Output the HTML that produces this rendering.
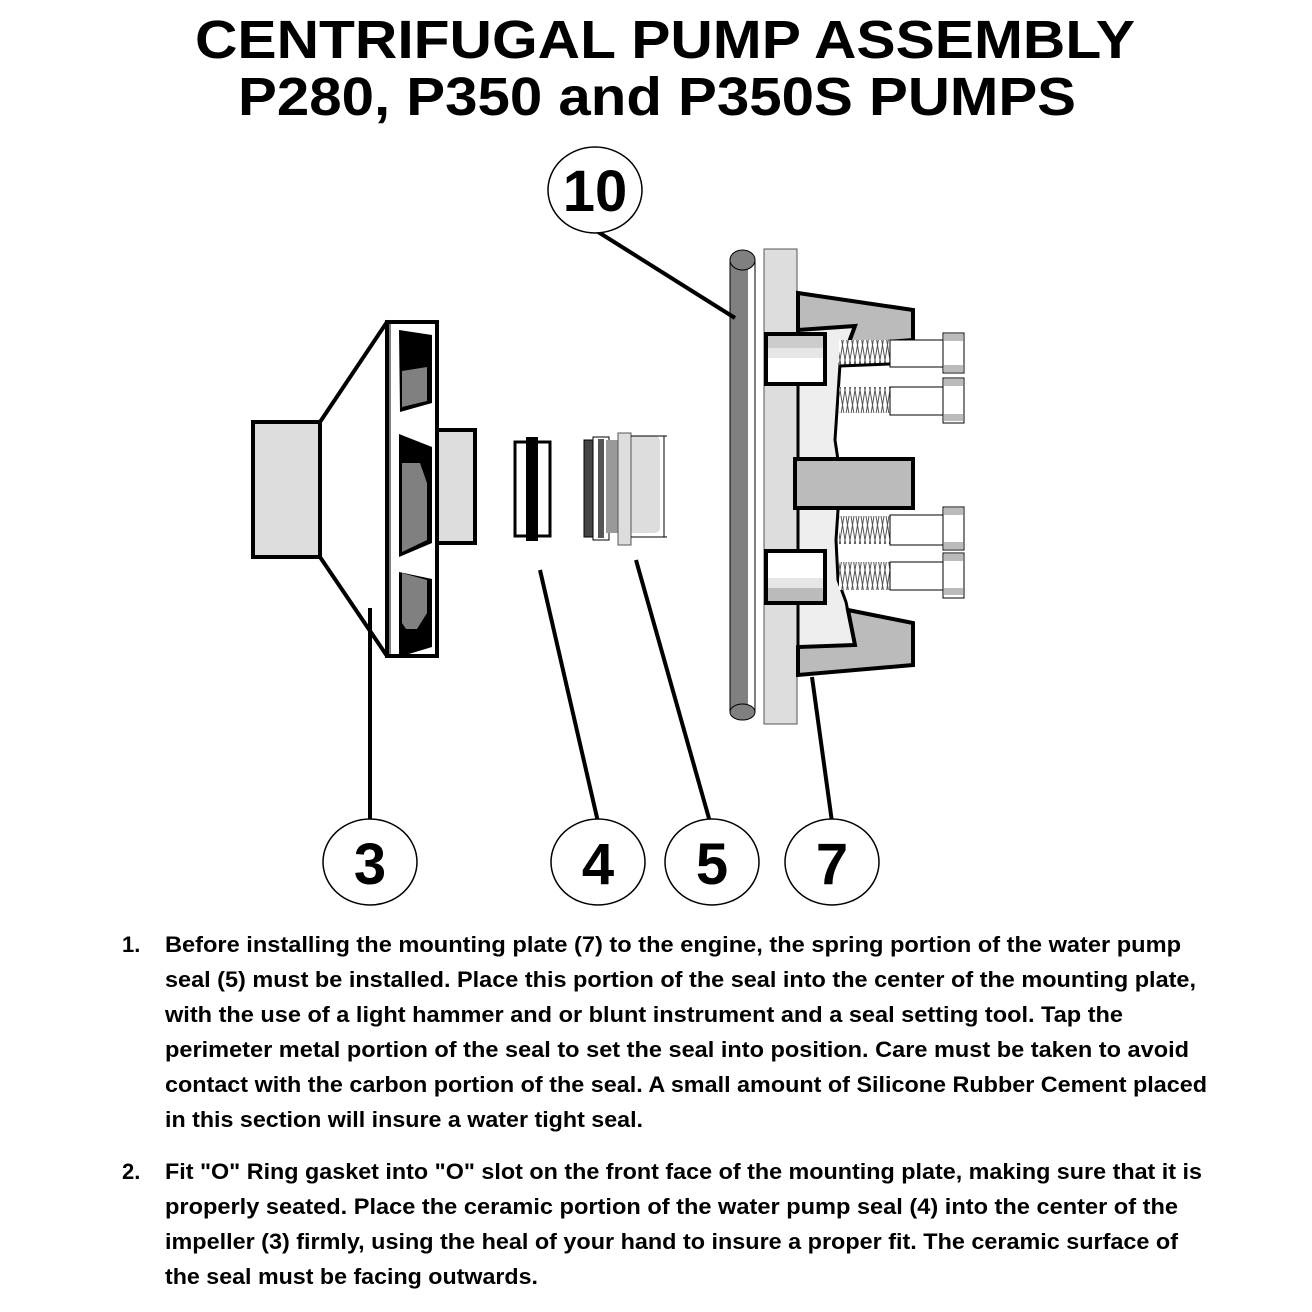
<!DOCTYPE html>
<html><head><meta charset="utf-8"><style>
html,body{margin:0;padding:0;background:#fff;}
svg{display:block;}
.t{font-family:"Liberation Sans",sans-serif;font-weight:bold;}
</style></head><body>
<svg width="1312" height="1312" viewBox="0 0 1312 1312" xmlns="http://www.w3.org/2000/svg">
<rect width="1312" height="1312" fill="#fff"/>
<text class="t" x="665" y="58" font-size="54" text-anchor="middle" textLength="940" lengthAdjust="spacingAndGlyphs">CENTRIFUGAL PUMP ASSEMBLY</text>
<text class="t" x="657" y="115" font-size="54" text-anchor="middle" textLength="838" lengthAdjust="spacingAndGlyphs">P280, P350 and P350S PUMPS</text>

<polygon points="320,422 387,322 387,656 320,557" fill="#fff" stroke="#000" stroke-width="4" stroke-linejoin="round"/>
<rect x="253" y="422" width="67" height="135" fill="#ddd" stroke="#000" stroke-width="4"/>
<rect x="437" y="430" width="38" height="113" fill="#ddd" stroke="#000" stroke-width="4"/>
<rect x="387" y="322" width="50" height="334" fill="#fff" stroke="#000" stroke-width="4"/>
<line x1="390" y1="324" x2="390" y2="654" stroke="#000" stroke-width="1"/>
<polygon points="399,330 432,335 432,403 400,412" fill="#000"/>
<polygon points="402,371 427,367 427,401 402,407" fill="#808080"/>
<polygon points="399,434 432,447 432,543 399,557" fill="#000"/>
<polygon points="402,463 420,463 427,483 427,540 402,552" fill="#808080"/>
<polygon points="399,572 432,579 432,647 399,657" fill="#000"/>
<polygon points="402,573 427,580 427,613 417,629 406,629 402,623" fill="#808080"/>

<rect x="515" y="442" width="35" height="94" fill="#fff" stroke="#000" stroke-width="3"/>
<rect x="526" y="437" width="12" height="104" fill="#000"/>

<rect x="618" y="436" width="42" height="97" rx="5" fill="#ddd"/>
<rect x="584" y="440" width="9" height="97" fill="#444" stroke="#000" stroke-width="1"/>
<rect x="593" y="437" width="16" height="103" fill="#fff" stroke="#000" stroke-width="1"/>
<rect x="598" y="439" width="6" height="99" fill="#555"/>
<rect x="606" y="440" width="12" height="93" fill="#999"/>
<rect x="618" y="433" width="13" height="112" fill="#ddd" stroke="#555" stroke-width="1"/>
<line x1="664" y1="436" x2="664" y2="537" stroke="#000" stroke-width="1"/>
<line x1="631" y1="436" x2="667" y2="436" stroke="#000" stroke-width="1"/>
<line x1="631" y1="537" x2="667" y2="537" stroke="#000" stroke-width="1"/>

<rect x="730" y="260" width="25" height="452" fill="#808080" stroke="#000" stroke-width="1"/>
<rect x="748" y="260" width="7" height="452" fill="#fff"/>
<line x1="755" y1="260" x2="755" y2="712" stroke="#000" stroke-width="1"/>
<ellipse cx="742.5" cy="260" rx="12.5" ry="10" fill="#808080" stroke="#000" stroke-width="1"/>
<ellipse cx="742.5" cy="712" rx="12.5" ry="8" fill="#808080" stroke="#000" stroke-width="1"/>
<rect x="764" y="249" width="33" height="475" fill="#ddd" stroke="#555" stroke-width="1"/>

<path d="M798,328 L855,326 L840,364 L837,410 L835,440 L838,460 L838,510 L836,540 L838,580 L846,602 L855,645 L798,647 Z" fill="#eee" stroke="#000" stroke-width="3"/>
<polygon points="798,293 913,310 913,340 848,345 855,326 798,330" fill="#bbb" stroke="#000" stroke-width="4"/>
<polygon points="848,610 913,623 913,665 798,675 798,647 855,645" fill="#bbb" stroke="#000" stroke-width="4"/>
<rect x="795" y="459" width="118" height="49" fill="#bbb" stroke="#000" stroke-width="4"/>
<rect x="766" y="334" width="59" height="50" fill="#fff" stroke="#000" stroke-width="4"/>
<rect x="768" y="336" width="55" height="12" fill="#ccc"/>
<rect x="768" y="348" width="55" height="10" fill="#e6e6e6"/>
<rect x="766" y="551" width="59" height="52" fill="#fff" stroke="#000" stroke-width="4"/>
<rect x="768" y="588" width="55" height="13" fill="#bbb"/>
<rect x="768" y="578" width="55" height="10" fill="#e6e6e6"/>

<defs>
<pattern id="spr" width="5" height="30" patternUnits="userSpaceOnUse">
<rect width="5" height="30" fill="#fff"/>
<path d="M0,0 L5,30 M5,0 L0,30" stroke="#555" stroke-width="1"/>
</pattern>
</defs>
<g>
<rect x="839" y="340" width="51" height="25" fill="url(#spr)"/>
<rect x="839" y="387" width="51" height="26" fill="url(#spr)"/>
<rect x="839" y="516" width="51" height="28" fill="url(#spr)"/>
<rect x="839" y="562" width="51" height="28" fill="url(#spr)"/>
<line x1="840" y1="366" x2="890" y2="364" stroke="#000" stroke-width="3"/>
</g>
<g fill="#fff" stroke="#000" stroke-width="1">
<rect x="890" y="340" width="53" height="27"/>
<rect x="890" y="387" width="53" height="28"/>
<rect x="890" y="515" width="53" height="30"/>
<rect x="890" y="562" width="53" height="28"/>
<rect x="943" y="333" width="21" height="40"/>
<rect x="943" y="378" width="21" height="45"/>
<rect x="943" y="507" width="21" height="43"/>
<rect x="943" y="553" width="21" height="45"/>
</g>
<g fill="#bbb">
<rect x="944" y="334" width="19" height="7"/><rect x="944" y="365" width="19" height="7"/>
<rect x="944" y="379" width="19" height="7"/><rect x="944" y="414" width="19" height="7"/>
<rect x="944" y="508" width="19" height="7"/><rect x="944" y="542" width="19" height="7"/>
<rect x="944" y="554" width="19" height="7"/><rect x="944" y="588" width="19" height="7"/>
</g>

<g stroke="#000" stroke-width="4" fill="none">
<line x1="595" y1="230" x2="735" y2="318"/>
<line x1="370" y1="608" x2="370" y2="820"/>
<line x1="540" y1="570" x2="598" y2="822"/>
<line x1="636" y1="560" x2="710" y2="822"/>
<line x1="812" y1="677" x2="832" y2="822"/>
</g>
<g fill="#fff" stroke="#000" stroke-width="1.5">
<ellipse cx="595" cy="190" rx="47" ry="43"/>
<ellipse cx="370" cy="862" rx="47" ry="43"/>
<ellipse cx="598" cy="862" rx="47" ry="43"/>
<ellipse cx="712" cy="862" rx="47" ry="43"/>
<ellipse cx="832" cy="862" rx="47" ry="43"/>
</g>
<g class="t" font-size="58" text-anchor="middle">
<text x="595" y="211">10</text>
<text x="370" y="884">3</text>
<text x="598" y="884">4</text>
<text x="712" y="884">5</text>
<text x="832" y="884">7</text>
</g>

<g class="t" font-size="22">
<text x="122" y="952">1.</text>
<text x="165" y="952" textLength="1016" lengthAdjust="spacingAndGlyphs">Before installing the mounting plate (7) to the engine, the spring portion of the water pump</text>
<text x="165" y="987" textLength="1031" lengthAdjust="spacingAndGlyphs">seal (5) must be installed. Place this portion of the seal into the center of the mounting plate,</text>
<text x="165" y="1022" textLength="958" lengthAdjust="spacingAndGlyphs">with the use of a light hammer and or blunt instrument and a seal setting tool. Tap the</text>
<text x="165" y="1057" textLength="1024" lengthAdjust="spacingAndGlyphs">perimeter metal portion of the seal to set the seal into position. Care must be taken to avoid</text>
<text x="165" y="1092" textLength="1042" lengthAdjust="spacingAndGlyphs">contact with the carbon portion of the seal. A small amount of Silicone Rubber Cement placed</text>
<text x="165" y="1127" textLength="478" lengthAdjust="spacingAndGlyphs">in this section will insure a water tight seal.</text>
<text x="122" y="1179">2.</text>
<text x="165" y="1179" textLength="1037" lengthAdjust="spacingAndGlyphs">Fit "O" Ring gasket into "O" slot on the front face of the mounting plate, making sure that it is</text>
<text x="165" y="1214" textLength="1013" lengthAdjust="spacingAndGlyphs">properly seated. Place the ceramic portion of the water pump seal (4) into the center of the</text>
<text x="165" y="1249" textLength="1013" lengthAdjust="spacingAndGlyphs">impeller (3) firmly, using the heal of your hand to insure a proper fit. The ceramic surface of</text>
<text x="165" y="1284" textLength="373" lengthAdjust="spacingAndGlyphs">the seal must be facing outwards.</text>
</g>
</svg>
</body></html>
